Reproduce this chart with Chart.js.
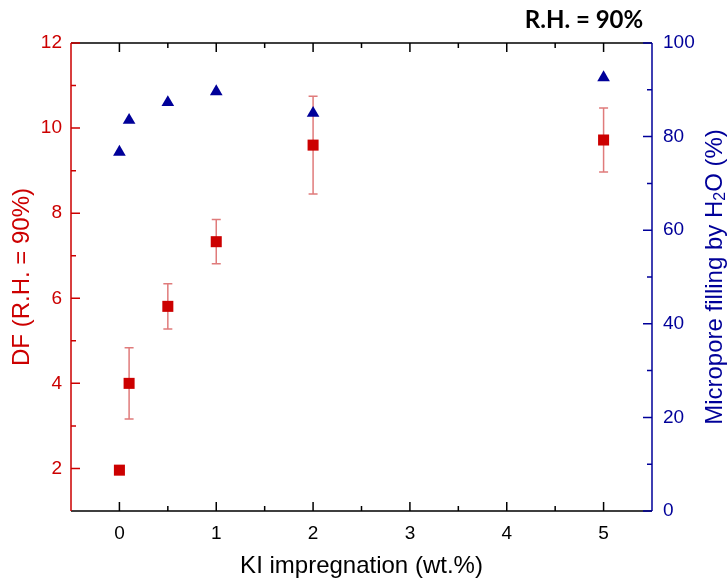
<!DOCTYPE html>
<html>
<head>
<meta charset="utf-8">
<script src="https://cdn.jsdelivr.net/npm/chart.js@4.4.1/dist/chart.umd.min.js"></script>
<style>
    html, body { margin: 0; padding: 0; background: #fff; }
</style>
</head>
<body>
<canvas id="chart" width="727" height="578"></canvas>
<script>
// data
const kiLoading = [0, 0.1, 0.5, 1, 2, 5];
const dfValues = [1.96, 4.0, 5.81, 7.33, 9.6, 9.72];
const dfErrors = [0, 0.84, 0.53, 0.52, 1.15, 0.75];
const microporeFilling = [76.7, 83.5, 87.3, 89.6, 85.0, 92.6];

const xTicks = [0, 1, 2, 3, 4, 5];
const dfTicks = [2, 4, 6, 8, 10, 12];
const fillTicks = [0, 20, 40, 60, 80, 100];

const RED = "#cc0000", BLUE = "#000099", ERR = "#e07b7b";
const FONT = "'Liberation Sans', Arial, sans-serif";

function midpoints(arr) {
    const out = [];
    for (let i = 0; i < arr.length - 1; i++) out.push((arr[i] + arr[i + 1]) / 2);
    return out;
}

const figPlugin = {
    id: "fig",
    beforeDatasetsDraw(chart) {
        const ctx = chart.ctx, xs = chart.scales.x, ys = chart.scales.yDF;
        ctx.save();
        ctx.strokeStyle = ERR;
        ctx.lineWidth = 1.5;
        kiLoading.forEach((k, i) => {
            const e = dfErrors[i];
            if (!e) return;
            const x = xs.getPixelForValue(k);
            const y1 = ys.getPixelForValue(dfValues[i] + e);
            const y2 = ys.getPixelForValue(dfValues[i] - e);
            ctx.beginPath();
            ctx.moveTo(x, y1); ctx.lineTo(x, y2);
            ctx.moveTo(x - 4.5, y1); ctx.lineTo(x + 4.5, y1);
            ctx.moveTo(x - 4.5, y2); ctx.lineTo(x + 4.5, y2);
            ctx.stroke();
        });
        ctx.restore();
    },
    afterDraw(chart) {
        const ctx = chart.ctx;
        const { left, right, top, bottom } = chart.chartArea;
        const xs = chart.scales.x, yl = chart.scales.yDF, yr = chart.scales.yFill;
        ctx.save();
        ctx.lineWidth = 1.5;

        // bottom + top axes (black), ticks pointing inward
        ctx.strokeStyle = "#000";
        ctx.beginPath();
        ctx.moveTo(left, bottom); ctx.lineTo(right, bottom);
        ctx.moveTo(left, top); ctx.lineTo(right, top);
        xTicks.forEach(v => {
            const p = xs.getPixelForValue(v);
            ctx.moveTo(p, bottom); ctx.lineTo(p, bottom - 9);
            ctx.moveTo(p, top); ctx.lineTo(p, top + 9);
        });
        midpoints(xTicks).forEach(v => {
            const p = xs.getPixelForValue(v);
            ctx.moveTo(p, bottom); ctx.lineTo(p, bottom - 5);
            ctx.moveTo(p, top); ctx.lineTo(p, top + 5);
        });
        ctx.stroke();

        // left axis (red)
        ctx.strokeStyle = RED;
        ctx.beginPath();
        ctx.moveTo(left, top); ctx.lineTo(left, bottom);
        dfTicks.forEach(v => {
            const p = yl.getPixelForValue(v);
            ctx.moveTo(left, p); ctx.lineTo(left + 9, p);
        });
        midpoints(dfTicks).forEach(v => {
            const p = yl.getPixelForValue(v);
            ctx.moveTo(left, p); ctx.lineTo(left + 5, p);
        });
        ctx.stroke();

        // right axis (blue)
        ctx.strokeStyle = BLUE;
        ctx.beginPath();
        ctx.moveTo(right, top); ctx.lineTo(right, bottom);
        fillTicks.forEach(v => {
            const p = yr.getPixelForValue(v);
            ctx.moveTo(right, p); ctx.lineTo(right - 9, p);
        });
        midpoints(fillTicks).forEach(v => {
            const p = yr.getPixelForValue(v);
            ctx.moveTo(right, p); ctx.lineTo(right - 5, p);
        });
        ctx.stroke();

        // right axis title with subscript
        ctx.fillStyle = BLUE;
        ctx.translate(715, (top + bottom) / 2 + 0);
        ctx.rotate(-Math.PI / 2);
        ctx.textBaseline = "middle";
        const big = "24px " + FONT, small = "16px " + FONT;
        const parts = [["Micropore filling by H", big, 0], ["2", small, 6], ["O (%)", big, 0]];
        let total = 0;
        parts.forEach(([t, f]) => { ctx.font = f; total += ctx.measureText(t).width; });
        let cx = -total / 2;
        parts.forEach(([t, f, dy]) => {
            ctx.font = f;
            ctx.fillText(t, cx, dy);
            cx += ctx.measureText(t).width;
        });
        ctx.setTransform(1, 0, 0, 1, 0, 0);

        // panel title
        ctx.fillStyle = "#000";
        ctx.font = "bold 24px Lato, 'Open Sans', sans-serif";
        ctx.textAlign = "center";
        ctx.textBaseline = "alphabetic";
        ctx.fillText("R.H. = 90%", 584, 28);
        ctx.restore();
    }
};

new Chart(document.getElementById("chart").getContext("2d"), {
    type: "scatter",
    data: {
        datasets: [
            {
                label: "DF",
                data: kiLoading.map((x, i) => ({ x, y: dfValues[i] })),
                yAxisID: "yDF",
                pointStyle: "rect",
                pointRadius: 7.8,
                pointHoverRadius: 7.8,
                backgroundColor: RED,
                borderColor: RED,
                borderWidth: 0
            },
            {
                label: "Micropore filling",
                data: kiLoading.map((x, i) => ({ x, y: microporeFilling[i] })),
                yAxisID: "yFill",
                pointStyle: "triangle",
                pointRadius: 7.3,
                pointHoverRadius: 7.3,
                backgroundColor: BLUE,
                borderColor: BLUE,
                borderWidth: 0
            }
        ]
    },
    options: {
        responsive: false,
        animation: false,
        devicePixelRatio: 1,
        layout: { padding: { top: 43, left: 0, right: 0, bottom: 0 } },
        plugins: { legend: { display: false }, tooltip: { enabled: false } },
        scales: {
            x: {
                type: "linear", min: -0.5, max: 5.5,
                afterBuildTicks: s => { s.ticks = xTicks.map(v => ({ value: v })); },
                afterFit: s => { s.height = 67; },
                grid: { display: false, drawTicks: false }, border: { display: false },
                ticks: { color: "#000", font: { family: FONT, size: 19 }, padding: 11, maxRotation: 0, autoSkip: false },
                title: { display: true, text: "KI impregnation (wt.%)", color: "#000", font: { family: FONT, size: 24, lineHeight: 1 }, padding: { top: 0, bottom: 0 } }
            },
            yDF: {
                type: "linear", position: "left", min: 1, max: 12,
                afterBuildTicks: s => { s.ticks = dfTicks.map(v => ({ value: v })); },
                afterFit: s => { s.width = 71; },
                grid: { display: false, drawTicks: false }, border: { display: false },
                ticks: { color: RED, font: { family: FONT, size: 19 }, padding: 9 },
                title: { display: true, text: "DF (R.H. = 90%)", color: RED, font: { family: FONT, size: 24, lineHeight: 1 }, padding: { top: 10, bottom: 0 } }
            },
            yFill: {
                type: "linear", position: "right", min: 0, max: 100,
                afterBuildTicks: s => { s.ticks = fillTicks.map(v => ({ value: v })); },
                afterFit: s => { s.width = 75; },
                grid: { display: false, drawTicks: false }, border: { display: false },
                ticks: { color: BLUE, font: { family: FONT, size: 19 }, padding: 11 }
            }
        }
    },
    plugins: [figPlugin]
});
</script>
</body>
</html>
